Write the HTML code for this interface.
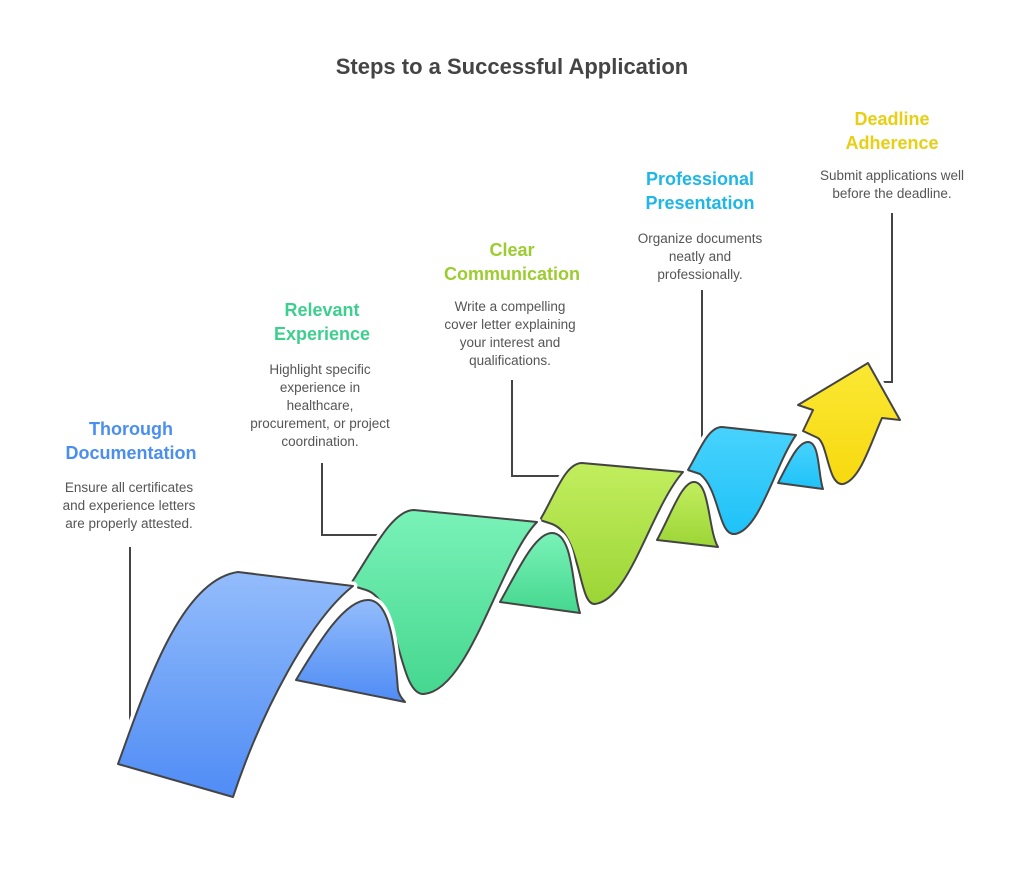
<!DOCTYPE html>
<html><head><meta charset="utf-8"><style>
html,body{margin:0;padding:0;background:#fff;}
svg{display:block;}
text{font-family:"Liberation Sans",Arial,sans-serif;}
.t{font-size:18px;font-weight:bold;text-anchor:middle;}
.d{font-size:13.5px;fill:#555;text-anchor:middle;}
</style></head><body>
<svg width="1024" height="869" viewBox="0 0 1024 869" xmlns="http://www.w3.org/2000/svg">
<defs>
<linearGradient id="gb" x1="0" y1="0" x2="0" y2="1"><stop offset="0" stop-color="#93bcfb"/><stop offset="1" stop-color="#4f8cf5"/></linearGradient>
<linearGradient id="gg" x1="0" y1="0" x2="0" y2="1"><stop offset="0" stop-color="#7af2b8"/><stop offset="1" stop-color="#45d78f"/></linearGradient>
<linearGradient id="gl" x1="0" y1="0" x2="0" y2="1"><stop offset="0" stop-color="#c2ee5e"/><stop offset="1" stop-color="#9cd536"/></linearGradient>
<linearGradient id="gc" x1="0" y1="0" x2="0" y2="1"><stop offset="0" stop-color="#48d2fc"/><stop offset="1" stop-color="#1fc2f8"/></linearGradient>
<linearGradient id="gy" x1="0" y1="0" x2="0" y2="1"><stop offset="0" stop-color="#fbe834"/><stop offset="1" stop-color="#f7d90f"/></linearGradient>
</defs>
<text x="512" y="74" style="font-size:22px;font-weight:bold;fill:#444;text-anchor:middle">Steps to a Successful Application</text>

<g stroke="#444" stroke-width="2" fill="none">
<path d="M130,547 V727"/>
<path d="M322,463 V535 H382"/>
<path d="M512,380 V476 H570"/>
<path d="M702,290 V448"/>
<path d="M892,213 V382 H880"/>
</g>

<g stroke-linejoin="round">
<path d="M803,431 L813,410 L798,405 L868,363 L900,420 L882,418 C870,445 860,480 843,484 C828,486 828,445 818,438 Z" fill="url(#gy)" stroke="#fff" stroke-width="9"/>
<path d="M803,431 L813,410 L798,405 L868,363 L900,420 L882,418 C870,445 860,480 843,484 C828,486 828,445 818,438 Z" fill="url(#gy)" stroke="#444" stroke-width="2"/>
<path d="M778,483 C790,460 798,442 808,442 C820,442 818,475 823,489 Z" fill="url(#gc)" stroke="#fff" stroke-width="9"/>
<path d="M778,483 C790,460 798,442 808,442 C820,442 818,475 823,489 Z" fill="url(#gc)" stroke="#444" stroke-width="2"/>
<path d="M688,470 C700,450 708,427 722,427 L796,435 C775,465 760,530 735,534 C718,536 720,490 700,474 Z" fill="url(#gc)" stroke="#fff" stroke-width="9"/>
<path d="M688,470 C700,450 708,427 722,427 L796,435 C775,465 760,530 735,534 C718,536 720,490 700,474 Z" fill="url(#gc)" stroke="#444" stroke-width="2"/>
<path d="M657,540 C672,512 682,482 694,482 C710,482 708,530 718,547 Z" fill="url(#gl)" stroke="#fff" stroke-width="9"/>
<path d="M657,540 C672,512 682,482 694,482 C710,482 708,530 718,547 Z" fill="url(#gl)" stroke="#444" stroke-width="2"/>
<path d="M540,520 C555,495 565,463 582,463 L683,472 C650,510 630,600 595,604 C578,606 582,535 552,524 Z" fill="url(#gl)" stroke="#fff" stroke-width="9"/>
<path d="M540,520 C555,495 565,463 582,463 L683,472 C650,510 630,600 595,604 C578,606 582,535 552,524 Z" fill="url(#gl)" stroke="#444" stroke-width="2"/>
<path d="M500,602 C518,570 535,533 552,533 C574,533 572,590 580,613 Z" fill="url(#gg)" stroke="#fff" stroke-width="9"/>
<path d="M500,602 C518,570 535,533 552,533 C574,533 572,590 580,613 Z" fill="url(#gg)" stroke="#444" stroke-width="2"/>
<path d="M350,585 C372,552 392,510 414,510 L537,522 C500,560 470,690 424,694 C398,696 400,600 366,590 Z" fill="url(#gg)" stroke="#fff" stroke-width="9"/>
<path d="M350,585 C372,552 392,510 414,510 L537,522 C500,560 470,690 424,694 C398,696 400,600 366,590 Z" fill="url(#gg)" stroke="#444" stroke-width="2"/>
<path d="M296,680 C320,640 345,600 368,600 C392,600 395,655 398,690 C400,698 404,700 405,702 Z" fill="url(#gb)" stroke="#fff" stroke-width="9"/>
<path d="M296,680 C320,640 345,600 368,600 C392,600 395,655 398,690 C400,698 404,700 405,702 Z" fill="url(#gb)" stroke="#444" stroke-width="2"/>
<path d="M118,764 C145,690 180,580 238,572 L353,586 C310,620 262,710 233,797 Z" fill="url(#gb)" stroke="#fff" stroke-width="9"/>
<path d="M118,764 C145,690 180,580 238,572 L353,586 C310,620 262,710 233,797 Z" fill="url(#gb)" stroke="#444" stroke-width="2"/>
</g>

<text class="t" x="131" y="435" fill="#4a8ef0">Thorough</text>
<text class="t" x="131" y="459" fill="#4a8ef0">Documentation</text>
<text class="d" x="129" y="492">Ensure all certificates</text>
<text class="d" x="129" y="510">and experience letters</text>
<text class="d" x="129" y="528">are properly attested.</text>

<text class="t" x="322" y="316" fill="#3ecf8e">Relevant</text>
<text class="t" x="322" y="340" fill="#3ecf8e">Experience</text>
<text class="d" x="320" y="374">Highlight specific</text>
<text class="d" x="320" y="392">experience in</text>
<text class="d" x="320" y="410">healthcare,</text>
<text class="d" x="320" y="428">procurement, or project</text>
<text class="d" x="320" y="446">coordination.</text>

<text class="t" x="512" y="256" fill="#9ccc2f">Clear</text>
<text class="t" x="512" y="280" fill="#9ccc2f">Communication</text>
<text class="d" x="510" y="311">Write a compelling</text>
<text class="d" x="510" y="329">cover letter explaining</text>
<text class="d" x="510" y="347">your interest and</text>
<text class="d" x="510" y="365">qualifications.</text>

<text class="t" x="700" y="185" fill="#1fb6e8">Professional</text>
<text class="t" x="700" y="209" fill="#1fb6e8">Presentation</text>
<text class="d" x="700" y="243">Organize documents</text>
<text class="d" x="700" y="261">neatly and</text>
<text class="d" x="700" y="279">professionally.</text>

<text class="t" x="892" y="125" fill="#e8cf13">Deadline</text>
<text class="t" x="892" y="149" fill="#e8cf13">Adherence</text>
<text class="d" x="892" y="180">Submit applications well</text>
<text class="d" x="892" y="198">before the deadline.</text>
</svg>
</body></html>
